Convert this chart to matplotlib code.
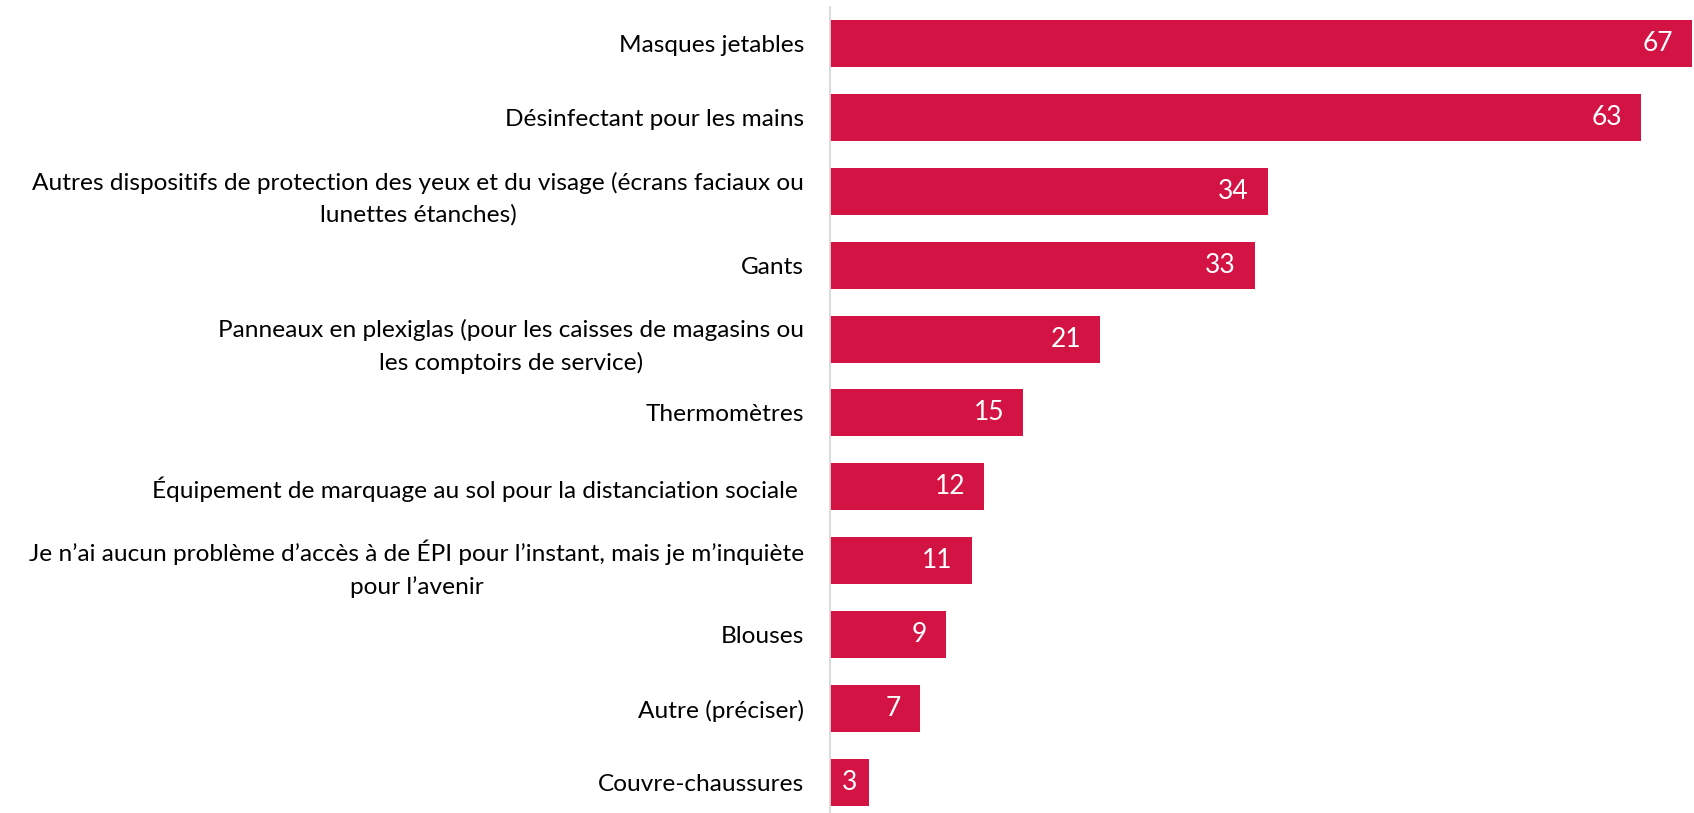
import matplotlib
matplotlib.use("Agg")
import matplotlib.pyplot as plt

categories = [
    "Masques jetables",
    "Désinfectant pour les mains",
    "Autres dispositifs de protection des yeux et du visage (écrans faciaux ou\nlunettes étanches)",
    "Gants",
    "Panneaux en plexiglas (pour les caisses de magasins ou\nles comptoirs de service)",
    "Thermomètres",
    "Équipement de marquage au sol pour la distanciation sociale ",
    "Je n’ai aucun problème d’accès à de ÉPI pour l’instant, mais je m’inquiète\npour l’avenir",
    "Blouses",
    "Autre (préciser)",
    "Couvre-chaussures",
]
values = [67, 63, 34, 33, 21, 15, 12, 11, 9, 7, 3]

BAR_COLOR = "#D41345"
FONT = ["Lato", "DejaVu Sans"]

W, H = 1694, 813
fig = plt.figure(figsize=(W / 100, H / 100), dpi=100)
ax_left, ax_right = 830 / W, 1.0
ax_bottom, ax_top = 0.0, 1 - 7 / H
ax = fig.add_axes([ax_left, ax_bottom, ax_right - ax_left, ax_top - ax_bottom])

ypos = list(range(len(categories)))
ax.barh(ypos, values, height=0.636, color=BAR_COLOR, edgecolor="none")
ax.set_xlim(0, 864 / 12.87)
ax.set_ylim(10.413, -0.494)

for s in ["top", "right", "bottom"]:
    ax.spines[s].set_visible(False)
ax.spines["left"].set_color("#D9D9D9")
ax.spines["left"].set_linewidth(1.3)
ax.set_xticks([])
ax.set_yticks(ypos)
base_size = 18.5
labels = ax.set_yticklabels(categories, fontsize=base_size, family=FONT, color="#000000",
                            multialignment="center", linespacing=1.62)
ax.tick_params(axis="y", length=0, pad=18.7)

# fit label font so the widest label matches the reference width (~775 px)
fig.canvas.draw()
r = fig.canvas.get_renderer()
maxw = max(t.get_window_extent(r).width for t in labels)
new_size = base_size * 775 / maxw
for t in labels:
    t.set_fontsize(new_size)

for y, v in zip(ypos, values):
    if v < 5:
        ax.annotate(str(v), xy=(v / 2, y), ha="center", va="center",
                    color="white", fontsize=19, family=FONT)
    else:
        ax.annotate(str(v), xy=(v, y), xytext=(-19 * 72 / 100, 0), textcoords="offset points",
                    ha="right", va="center", color="white", fontsize=19, family=FONT)

fig.savefig("out.png", dpi=100)
